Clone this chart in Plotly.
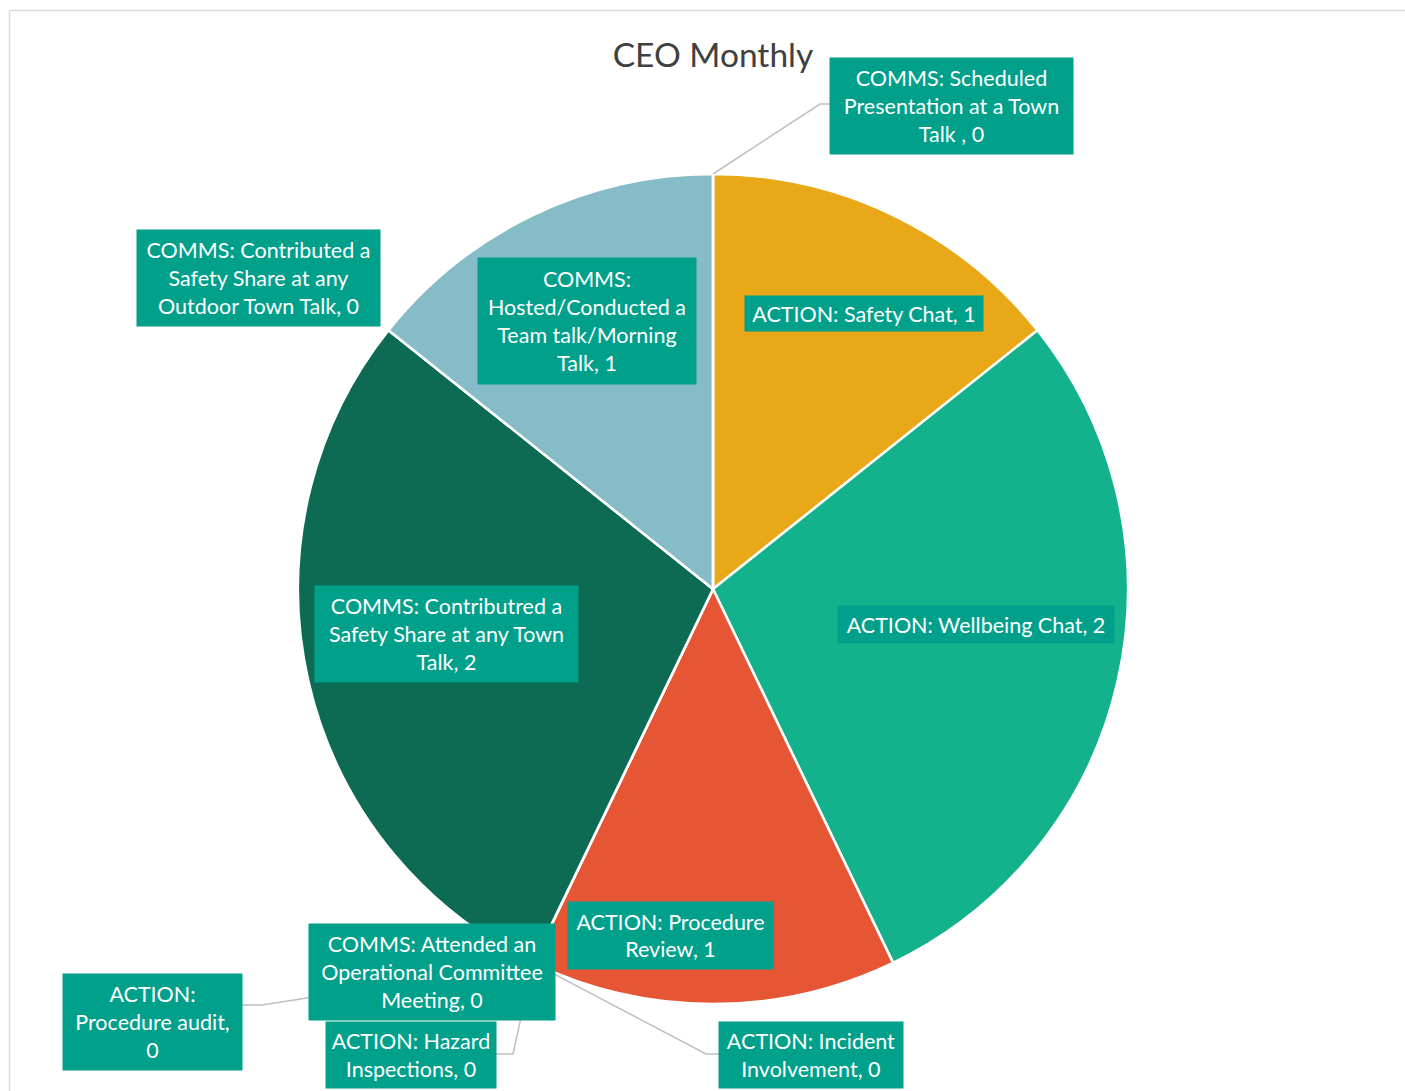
import math
import plotly.graph_objects as go

# Slice data, clockwise from 12 o'clock
categories = [
    "ACTION: Safety Chat",
    "ACTION: Wellbeing Chat",
    "ACTION: Procedure Review",
    "ACTION: Incident Involvement",
    "ACTION: Hazard Inspections",
    "ACTION: Procedure audit",
    "COMMS: Attended an Operational Committee Meeting",
    "COMMS: Contributred a Safety Share at any Town Talk",
    "COMMS: Contributed a Safety Share at any Outdoor Town Talk",
    "COMMS: Hosted/Conducted a Team talk/Morning Talk",
    "COMMS: Scheduled Presentation at a Town Talk ",
]
counts = [1, 2, 1, 0, 0, 0, 0, 2, 0, 1, 0]
slice_colors = ["#E8A817", "#14B28C", "#E65634", "#E65634", "#E65634", "#E65634",
                "#0D6B53", "#0D6B53", "#86BCC7", "#86BCC7", "#86BCC7"]

# Data-label text (wrapped as drawn in the boxes)
label_lines = [
    ["ACTION: Safety Chat, 1"],
    ["ACTION: Wellbeing Chat, 2"],
    ["ACTION: Procedure", "Review, 1"],
    ["ACTION: Incident", "Involvement, 0"],
    ["ACTION: Hazard", "Inspections, 0"],
    ["ACTION:", "Procedure audit,", "0"],
    ["COMMS: Attended an", "Operational Committee", "Meeting, 0"],
    ["COMMS: Contributred a", "Safety Share at any Town", "Talk, 2"],
    ["COMMS: Contributed a", "Safety Share at any", "Outdoor Town Talk, 0"],
    ["COMMS:", "Hosted/Conducted a", "Team talk/Morning", "Talk, 1"],
    ["COMMS: Scheduled", "Presentation at a Town", "Talk , 0"],
]
# Label box centres and sizes in page pixels
label_boxes = [
    (864, 313.5, 238, 35),
    (976, 624.5, 276, 37),
    (670.5, 935.5, 205, 67),
    (811, 1055, 184, 66),
    (411, 1055, 170, 66),
    (152.5, 1022, 179, 96),
    (432, 972, 246, 96),
    (446.5, 634, 263, 96),
    (258.5, 278, 243, 96),
    (587, 321, 218, 126),
    (951.5, 106, 243, 96),
]

W, H = 1405, 1091
CX, CY, R = 713, 589, 415

fig = go.Figure(go.Pie(
    labels=categories,
    values=counts,
    sort=False,
    direction="clockwise",
    rotation=0,
    marker=dict(colors=slice_colors, line=dict(color="white", width=2.5)),
    textinfo="none",
    hoverinfo="label+value",
    showlegend=False,
    domain=dict(x=[(CX - R) / W, (CX + R) / W], y=[1 - (CY + R) / H, 1 - (CY - R) / H]),
))


def px(x, y):
    return x / W, 1 - y / H


def edge_point(i):
    """Point on the pie rim at the middle angle of slice i."""
    total = sum(counts)
    start = sum(counts[:i]) / total * 360
    mid = start + counts[i] / total * 360 / 2
    a = math.radians(mid)
    return CX + R * math.sin(a), CY - R * math.cos(a)


# Leader lines for the zero-valued slices: rim point -> elbow -> label box
leaders = {
    10: [(820, 104), (830, 104)],
    3: [(706, 1054), (719, 1054)],
    4: [(513, 1054), (496, 1054)],
    5: [(262, 1005), (242, 1005)],
}
shapes = []
for i, pts in leaders.items():
    ex, ey = edge_point(i)
    path = [(ex, ey)] + pts
    d = "M " + " L ".join(f"{px(x, y)[0]},{px(x, y)[1]}" for x, y in path)
    shapes.append(dict(type="path", xref="paper", yref="paper", path=d,
                       line=dict(color="#BFBFBF", width=1.5), layer="above"))

# Chart area border
shapes.append(dict(type="rect", xref="paper", yref="paper",
                   x0=9.5 / W, y0=1 - 10.5 / H, x1=1.02, y1=-0.02,
                   line=dict(color="#D9D9D9", width=1.5), layer="below"))

annotations = []
for i, lines in enumerate(label_lines):
    cx, cy, bw, bh = label_boxes[i]
    x, y = px(cx, cy)
    annotations.append(dict(
        x=x, y=y, xref="paper", yref="paper", xanchor="center", yanchor="middle",
        text="<br>".join(lines),
        showarrow=False, align="center",
        width=bw, height=bh, borderpad=0,
        bgcolor="#00A08B",
        font=dict(family="Lato, sans-serif", size=21.5, color="white"),
    ))

fig.update_layout(
    width=W, height=H,
    margin=dict(l=0, r=0, t=0, b=0),
    paper_bgcolor="white",
    title=dict(text="CEO Monthly", x=713 / W, xanchor="center", y=1 - 55 / H, yanchor="middle",
               font=dict(family="Lato, sans-serif", size=33.5, color="#404040")),
    shapes=shapes,
    annotations=annotations,
)

fig.write_html("out.html")
